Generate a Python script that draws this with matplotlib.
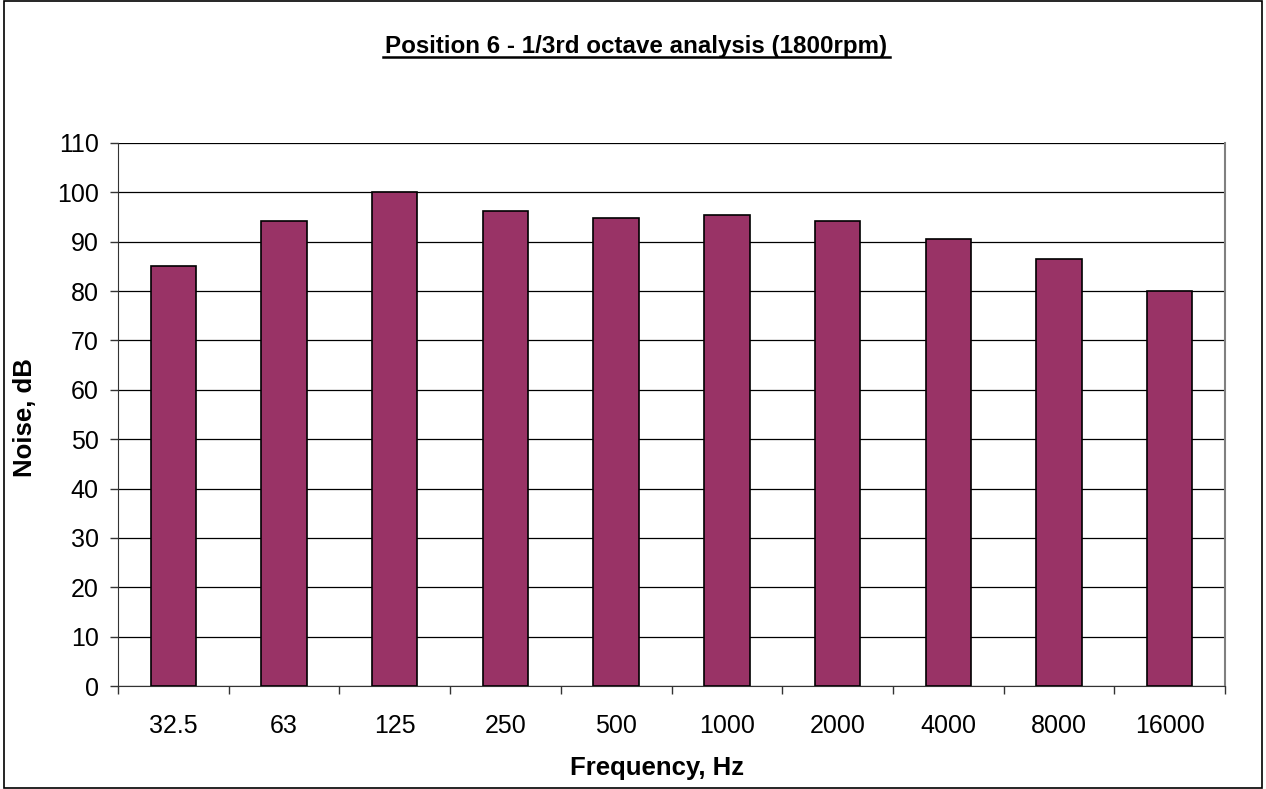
import matplotlib
matplotlib.use("Agg")
import matplotlib.pyplot as plt
from matplotlib.patches import Rectangle

categories = ["32.5", "63", "125", "250", "500", "1000", "2000", "4000", "8000", "16000"]
noise_db = [85.0, 94.1, 100.0, 96.3, 94.8, 95.5, 94.1, 90.6, 86.5, 80.1]
y_ticks = list(range(0, 111, 10))

plt.rcParams['font.family'] = ['Liberation Sans', 'DejaVu Sans']

W, H = 1266, 789
fig = plt.figure(figsize=(W / 100, H / 100), dpi=100)
L, R, T, B = 118, 1225, 143, 686
ax = fig.add_axes([L / W, 1 - B / H, (R - L) / W, (B - T) / H])

x = list(range(len(categories)))
ax.bar(x, noise_db, width=0.41, color='#993366', edgecolor='black', linewidth=1.2, zorder=3)

ax.set_xlim(-0.5, len(categories) - 0.5)
ax.set_ylim(0, 110)
ax.set_yticks(y_ticks)
ax.set_yticklabels([str(t) for t in y_ticks], fontsize=18)
ax.yaxis.grid(True, color='black', linewidth=0.9, zorder=0)
ax.set_axisbelow(True)

ax.set_xticks(x)
ax.set_xticklabels(categories, fontsize=18)
ax.tick_params(axis='x', length=0, pad=20)
ax.set_xticks([i - 0.5 for i in range(len(categories) + 1)], minor=True)
ax.tick_params(axis='x', which='minor', length=6, direction='out', width=1, color='#333333')
ax.tick_params(axis='y', length=6, direction='out', width=1, color='#333333', pad=8)

ax.spines['top'].set_visible(False)
ax.spines['right'].set_color('#808080')
ax.spines['right'].set_linewidth(1.5)
ax.spines['left'].set_color('#333333')
ax.spines['bottom'].set_color('#333333')

ax.set_xlabel("Frequency, Hz", fontsize=18.5, fontweight='bold')
ax.set_ylabel("Noise, dB", fontsize=18.5, fontweight='bold')
ax.xaxis.set_label_coords((657 - L) / (R - L), -(768 - B) / (B - T))
ax.yaxis.set_label_coords(-(L - 25) / (R - L), (B - 418) / (B - T))
ax.xaxis.label.set_va('center')
ax.yaxis.label.set_va('center')

fig.text(636.5 / W, 1 - 46 / H, "Position 6 - 1/3rd octave analysis (1800rpm)",
         ha='center', va='center', fontsize=17.4, fontweight='bold')
# underline
fig.add_artist(plt.Line2D([383 / W, 890 / W], [1 - 57 / H, 1 - 57 / H], color='black', linewidth=1.8))

fig.add_artist(Rectangle((4 / W, 1 / H), 1258 / W, 787 / H, fill=False, edgecolor='black',
                         linewidth=1.2, transform=fig.transFigure))

fig.savefig("out.png", dpi=100)
